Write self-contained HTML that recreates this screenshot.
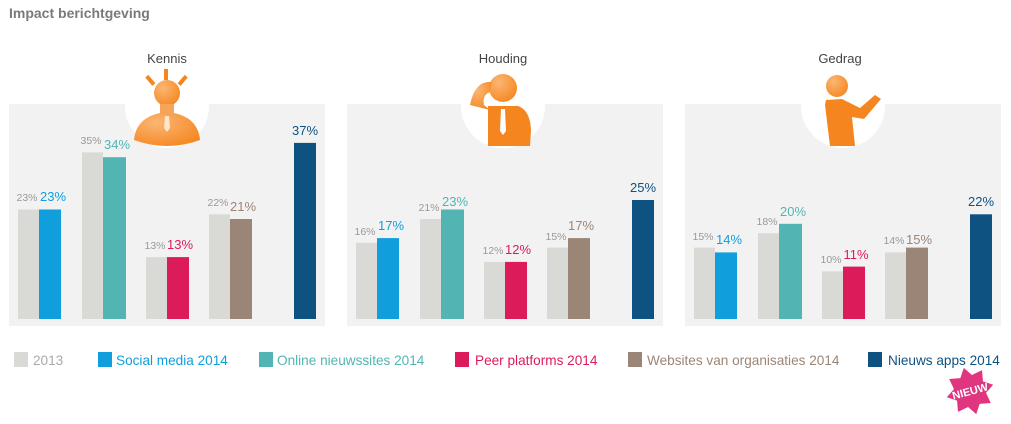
<!DOCTYPE html>
<html><head><meta charset="utf-8"><style>
body{margin:0;background:#fff;}
svg{display:block;font-family:"Liberation Sans",sans-serif;}
</style></head><body>
<svg width="1011" height="424" viewBox="0 0 1011 424" xmlns="http://www.w3.org/2000/svg">
<defs>
<radialGradient id="og" cx="0.35" cy="0.3" r="0.8"><stop offset="0" stop-color="#fbb673"/><stop offset="1" stop-color="#f5861f"/></radialGradient>
</defs>
<text x="9" y="18" font-size="14" font-weight="bold" fill="#7a7a7a">Impact berichtgeving</text>

<rect x="9" y="104" width="316" height="222" fill="#f2f2f3"/>
<rect x="347" y="104" width="316" height="222" fill="#f2f2f3"/>
<rect x="685" y="104" width="316" height="222" fill="#f2f2f3"/>
<circle cx="167" cy="106" r="42" fill="#fff"/>
<circle cx="503" cy="106" r="42" fill="#fff"/>
<circle cx="843" cy="106" r="42" fill="#fff"/>

<g font-size="13" fill="#444" text-anchor="middle">
<text x="167" y="63">Kennis</text>
<text x="503" y="63">Houding</text>
<text x="840" y="63">Gedrag</text>
</g>

<g fill="#f5861f">
<rect x="164" y="69" width="4" height="11"/>
<rect x="148" y="75" width="4" height="11" transform="rotate(-40 150 80)"/>
<rect x="181" y="75" width="4" height="11" transform="rotate(40 183 80)"/>
<circle cx="167" cy="93" r="13" fill="url(#og)"/>
<rect x="160" y="104" width="14" height="10" fill="#f7a35a"/>
<path d="M134 140 Q136 118 160 113 L174 113 Q198 118 200 140 Q167 152 134 140Z" fill="url(#og)"/>
<path d="M165 116 L169 116 L170 128 L167 132 L164 128Z" fill="#fde6cc"/>
</g>
<g>
<circle cx="503" cy="88" r="14" fill="url(#og)"/>
<path d="M470 105 Q475 80 492 82 L490 92 Q482 95 484 105 L490 110Z" fill="url(#og)"/>
<path d="M488 106 L518 106 Q530 110 531 130 L530 146 L488 146Z" fill="#f5861f"/>
<path d="M501 109 L505 109 L506 131 L503 135 L500 131Z" fill="#fff"/>
</g>
<g>
<circle cx="837" cy="86" r="11" fill="url(#og)"/>
<path d="M826 100 L842 99 L860 108 L875 95 L881 99 L864 119 L852 117 L855 146 L830 146 L825 105Z" fill="#f5861f"/>
</g>

<g>
<rect x="18" y="209.5" width="21" height="109.5" fill="#d9d9d5"/>
<rect x="39" y="209.5" width="22" height="109.5" fill="#109fdc"/>
<rect x="82" y="152.4" width="21" height="166.6" fill="#d9d9d5"/>
<rect x="103" y="157.2" width="23" height="161.8" fill="#52b5b3"/>
<rect x="146" y="257.1" width="21" height="61.9" fill="#d9d9d5"/>
<rect x="167" y="257.1" width="22" height="61.9" fill="#dc1b5a"/>
<rect x="209" y="214.3" width="21" height="104.7" fill="#d9d9d5"/>
<rect x="230" y="219" width="22" height="100" fill="#9b8577"/>
<rect x="294" y="142.9" width="22" height="176.1" fill="#0e5282"/>
<rect x="356" y="242.8" width="21" height="76.2" fill="#d9d9d5"/>
<rect x="377" y="238.1" width="22" height="80.9" fill="#109fdc"/>
<rect x="420" y="219" width="21" height="100" fill="#d9d9d5"/>
<rect x="441" y="209.5" width="23" height="109.5" fill="#52b5b3"/>
<rect x="484" y="261.9" width="21" height="57.1" fill="#d9d9d5"/>
<rect x="505" y="261.9" width="22" height="57.1" fill="#dc1b5a"/>
<rect x="547" y="247.6" width="21" height="71.4" fill="#d9d9d5"/>
<rect x="568" y="238.1" width="22" height="80.9" fill="#9b8577"/>
<rect x="632" y="200" width="22" height="119" fill="#0e5282"/>
<rect x="694" y="247.6" width="21" height="71.4" fill="#d9d9d5"/>
<rect x="715" y="252.4" width="22" height="66.6" fill="#109fdc"/>
<rect x="758" y="233.3" width="21" height="85.7" fill="#d9d9d5"/>
<rect x="779" y="223.8" width="23" height="95.2" fill="#52b5b3"/>
<rect x="822" y="271.4" width="21" height="47.6" fill="#d9d9d5"/>
<rect x="843" y="266.6" width="22" height="52.4" fill="#dc1b5a"/>
<rect x="885" y="252.4" width="21" height="66.6" fill="#d9d9d5"/>
<rect x="906" y="247.6" width="22" height="71.4" fill="#9b8577"/>
<rect x="970" y="214.3" width="22" height="104.7" fill="#0e5282"/>
</g>

<g text-anchor="middle">
<g font-size="10.5" fill="#999">
<text x="27" y="201">23%</text><text x="91" y="144">35%</text><text x="155" y="249">13%</text><text x="218" y="206">22%</text>
<text x="365" y="235">16%</text><text x="429" y="211">21%</text><text x="493" y="254">12%</text><text x="556" y="240">15%</text>
<text x="703" y="240">15%</text><text x="767" y="225">18%</text><text x="831" y="263">10%</text><text x="894" y="244">14%</text>
</g>
<g font-size="13">
<text x="53" y="201" fill="#109fdc">23%</text><text x="117" y="149" fill="#52b5b3">34%</text><text x="180" y="249" fill="#dc1b5a">13%</text><text x="243" y="211" fill="#9b8577">21%</text><text x="305" y="135" fill="#0e5282">37%</text>
<text x="391" y="230" fill="#109fdc">17%</text><text x="455" y="206" fill="#52b5b3">23%</text><text x="518" y="254" fill="#dc1b5a">12%</text><text x="581" y="230" fill="#9b8577">17%</text><text x="643" y="192" fill="#0e5282">25%</text>
<text x="729" y="244" fill="#109fdc">14%</text><text x="793" y="216" fill="#52b5b3">20%</text><text x="856" y="259" fill="#dc1b5a">11%</text><text x="919" y="244" fill="#9b8577">15%</text><text x="981" y="206" fill="#0e5282">22%</text>
</g>
</g>

<g font-size="13.6">
<rect x="14" y="352" width="14" height="15" fill="#d9d9d5"/><text x="33" y="365" fill="#aaa">2013</text>
<rect x="98" y="352" width="14" height="15" fill="#109fdc"/><text x="116" y="365" fill="#109fdc">Social media 2014</text>
<rect x="259" y="352" width="14" height="15" fill="#52b5b3"/><text x="277" y="365" fill="#52b5b3">Online nieuwssites 2014</text>
<rect x="455" y="352" width="14" height="15" fill="#dc1b5a"/><text x="475" y="365" fill="#dc1b5a">Peer platforms 2014</text>
<rect x="628" y="352" width="14" height="15" fill="#9b8577"/><text x="647" y="365" fill="#9b8577">Websites van organisaties 2014</text>
<rect x="868" y="352" width="14" height="15" fill="#0e5282"/><text x="888" y="365" fill="#0e5282">Nieuws apps 2014</text>
</g>

<g transform="translate(970,391) rotate(-15)">
<polygon points="0,-24 6,-15 17,-17 15,-6 24,0 15,6 17,17 6,15 0,24 -6,15 -17,17 -15,6 -24,0 -15,-6 -17,-17 -6,-15" fill="#e0357f"/>
<text x="0" y="4" font-size="11" font-weight="bold" fill="#fff" text-anchor="middle">NIEUW</text>
</g>
</svg>
</body></html>
